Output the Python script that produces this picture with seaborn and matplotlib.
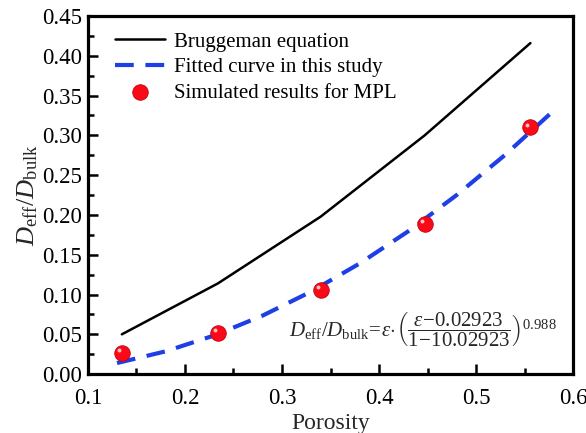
import pandas as pd
import seaborn as sns
import matplotlib.pyplot as plt
from matplotlib.ticker import MultipleLocator

# data
porosity = [0.135, 0.234, 0.340, 0.447, 0.556]
bruggeman = [0.050, 0.114, 0.198, 0.300, 0.416]
simulated = [0.027, 0.052, 0.106, 0.189, 0.310]
fit_x = [0.130, 0.180, 0.230, 0.280, 0.330, 0.380, 0.430, 0.480, 0.530, 0.578]
fit_y = [0.0139, 0.0286, 0.0485, 0.0735, 0.1037, 0.139, 0.1794, 0.225, 0.2756, 0.329]

sns.set_style("ticks")
plt.rcParams['font.family'] = ['Liberation Serif', 'DejaVu Serif']
plt.rcParams['mathtext.fontset'] = 'custom'
plt.rcParams['mathtext.rm'] = 'Liberation Serif'
plt.rcParams['mathtext.it'] = 'Liberation Serif:italic'


def main():
	fig = plt.figure(figsize=(5.86, 4.33), dpi=100)
	ax = fig.add_axes([0.150, 0.136, 0.828, 0.827])

	df_b = pd.DataFrame({'x': porosity, 'y': bruggeman})
	df_f = pd.DataFrame({'x': fit_x, 'y': fit_y})
	df_s = pd.DataFrame({'x': porosity, 'y': simulated})

	sns.lineplot(data=df_b, x='x', y='y', ax=ax, color='black', lw=1.8,
		label='Bruggeman equation')
	sns.lineplot(data=df_f, x='x', y='y', ax=ax, color='#1f3fe6', lw=3,
		label='Fitted curve in this study')
	ax.lines[-1].set_dashes([4.5, 2.8])
	sns.scatterplot(data=df_s, x='x', y='y', ax=ax, color='#fa0a18', s=125,
		edgecolor='#c8000e', linewidth=0.6, zorder=5,
		label='Simulated results for MPL')
	# small highlight to mimic the sphere look
	ax.scatter([p - 0.003 for p in porosity], [v + 0.0035 for v in simulated],
		s=8, color='#ffc0c8', zorder=6, linewidth=0)

	ax.set_xlim(0.1, 0.6)
	ax.set_ylim(0, 0.45)
	ax.xaxis.set_major_locator(MultipleLocator(0.1))
	ax.xaxis.set_minor_locator(MultipleLocator(0.05))
	ax.yaxis.set_major_locator(MultipleLocator(0.05))
	ax.yaxis.set_minor_locator(MultipleLocator(0.025))
	ax.xaxis.set_major_formatter(plt.FormatStrFormatter('%.1f'))
	ax.yaxis.set_major_formatter(plt.FormatStrFormatter('%.2f'))
	ax.tick_params(which='both', direction='in', width=1.8, top=False, right=False,
		labelsize=16.5, colors='black')
	ax.tick_params(which='major', length=7, pad=4)
	ax.tick_params(which='minor', length=4)
	ax.tick_params(axis='x', which='major', pad=10)
	for s in ax.spines.values():
		s.set_linewidth(2.3)
		s.set_color('black')

	ax.set_xlabel('Porosity', fontsize=17, labelpad=3)
	ax.set_ylabel(r'$D_{\mathrm{eff}}/D_{\mathrm{bulk}}$', fontsize=19, labelpad=2)

	ax.text(0.307, 0.056,
		r'$D_{\mathrm{eff}}/D_{\mathrm{bulk}}\!=\!\varepsilon\!\cdot\!\left(\dfrac{\varepsilon\!-\!0.02923}{1\!-\!10.02923}\right)^{0.988}$',
		fontsize=15, va='center', ha='left')

	leg = ax.legend(loc='upper left', frameon=False, fontsize=15,
		handlelength=2.4, handletextpad=0.45, labelspacing=0.28,
		borderaxespad=0.2, bbox_to_anchor=(0.03, 0.99))
	for t in leg.get_texts():
		t.set_color('black')

	fig.savefig('out.png', dpi=100)


if __name__ == '__main__':
	main()
